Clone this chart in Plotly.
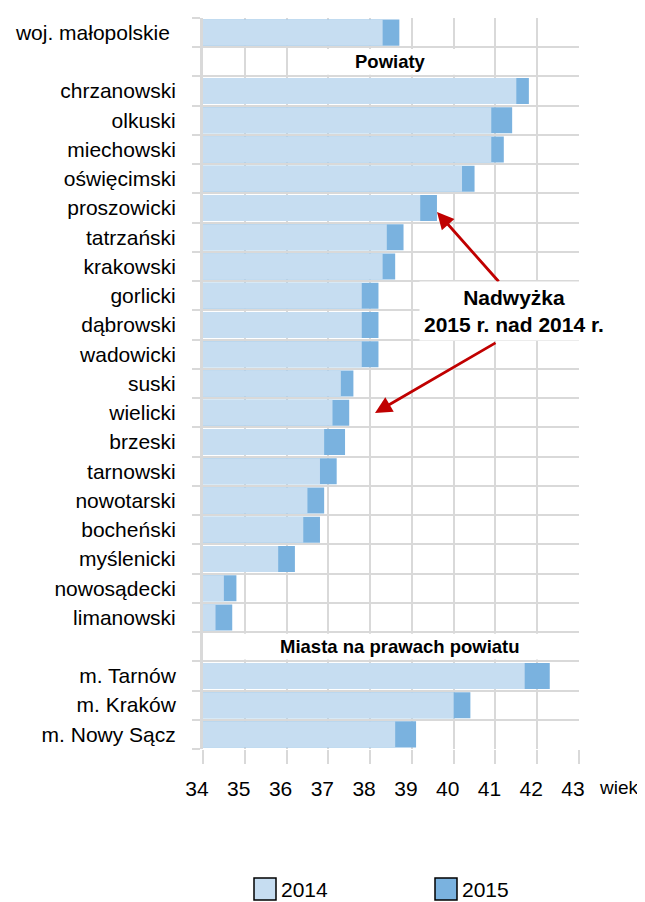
import plotly.graph_objects as go

# --- data ---
woj_label = "woj. małopolskie"
woj_2014 = [38.3]
woj_2015 = [38.7]

powiaty = ["chrzanowski", "olkuski", "miechowski", "oświęcimski", "proszowicki",
           "tatrzański", "krakowski", "gorlicki", "dąbrowski", "wadowicki",
           "suski", "wielicki", "brzeski", "tarnowski", "nowotarski",
           "bocheński", "myślenicki", "nowosądecki", "limanowski"]
pow_2014 = [41.5, 40.9, 40.9, 40.2, 39.2, 38.4, 38.3, 37.8, 37.8, 37.8,
            37.3, 37.1, 36.9, 36.8, 36.5, 36.4, 35.8, 34.5, 34.3]
pow_2015 = [41.8, 41.4, 41.2, 40.5, 39.6, 38.8, 38.6, 38.2, 38.2, 38.2,
            37.6, 37.5, 37.4, 37.2, 36.9, 36.8, 36.2, 34.8, 34.7]

miasta = ["m. Tarnów", "m. Kraków", "m. Nowy Sącz"]
mia_2014 = [41.7, 40.0, 38.6]
mia_2015 = [42.3, 40.4, 39.1]

hdr_pow = "Powiaty"
hdr_mia = "Miasta na prawach powiatu"

x_ticks = list(range(34, 44))

# --- assemble rows (header rows have no bars) ---
cats = [woj_label, hdr_pow] + powiaty + [hdr_mia] + miasta
v2014 = woj_2014 + [None] + pow_2014 + [None] + mia_2014
v2015 = woj_2015 + [None] + pow_2015 + [None] + mia_2015
ticktext = []
for c in cats:
    if c in (hdr_pow, hdr_mia):
        ticktext.append("")
    elif c == woj_label:
        ticktext.append(c + "\u00a0")
    else:
        ticktext.append(c)

LIGHT = "#C6DDF1"
DARK = "#7AB2DF"
GRID = "#D9D9D9"
FONT = "Liberation Sans, Arial, sans-serif"

# page body has an 8px margin, so the figure is drawn 8px in and down
OFF = 8
W, H = 645 - OFF, 902 - OFF
L, T = 203 - OFF, 18 - OFF
R = W - (579 - OFF)
B = H - (749 - OFF)
PW, PH = W - L - R, H - T - B


def px(x):
    return (x - OFF - L) / PW


def py(y):
    return 1 - (y - OFF - T) / PH


fig = go.Figure()
fig.add_trace(go.Bar(y=cats, x=v2015, orientation="h", name="2015",
                     marker=dict(color=DARK, line=dict(width=0))))
fig.add_trace(go.Bar(y=cats, x=v2014, orientation="h", name="2014",
                     marker=dict(color=LIGHT, line=dict(width=0))))

shapes = []
annotations = []

# white boxes behind section headers
i_pow = cats.index(hdr_pow)
i_mia = cats.index(hdr_mia)
shapes.append(dict(type="rect", xref="x", yref="y", x0=36.1, x1=40.9,
                   y0=i_pow - 0.44, y1=i_pow + 0.44, fillcolor="white",
                   line=dict(width=0), layer="above"))
shapes.append(dict(type="rect", xref="x", yref="y", x0=34.06, x1=42.96,
                   y0=i_mia - 0.44, y1=i_mia + 0.44, fillcolor="white",
                   line=dict(width=0), layer="above"))
annotations.append(dict(x=38.48, y=i_pow, xref="x", yref="y", text="<b>Powiaty</b>",
                        xanchor="center", showarrow=False,
                        font=dict(size=18.5, color="#000000", family=FONT)))
annotations.append(dict(x=38.71, y=i_mia, xref="x", yref="y",
                        text="<b>Miasta na prawach powiatu</b>",
                        xanchor="center", showarrow=False,
                        font=dict(size=18.5, color="#000000", family=FONT)))

# arrows
annotations.append(dict(x=px(437), y=py(212), xref="paper", yref="paper", text="",
                        showarrow=True, ax=63, ay=71, arrowhead=2, arrowsize=1.2,
                        arrowwidth=2.8, arrowcolor="#C00000"))
annotations.append(dict(x=px(375), y=py(413), xref="paper", yref="paper", text="",
                        showarrow=True, ax=122, ay=-71, arrowhead=2, arrowsize=1.2,
                        arrowwidth=2.8, arrowcolor="#C00000"))

# callout text
annotations.append(dict(x=px(514), y=py(311), xref="paper", yref="paper",
                        text="<b>Nadwyżka<br>2015 r. nad 2014 r.</b>",
                        xanchor="center", yanchor="middle",
                        showarrow=False, bgcolor="white", borderpad=4,
                        font=dict(size=21, color="#000000", family=FONT)))

# axis unit (kept inside the visible page width)
annotations.append(dict(x=px(597), y=py(787), xref="paper", yref="paper", text="wiek",
                        xanchor="left", yanchor="middle", showarrow=False,
                        font=dict(size=19, color="#000000", family=FONT)))

# legend
for x0, col, lab in [(254, LIGHT, "2014"), (435, DARK, "2015")]:
    shapes.append(dict(type="rect", xref="paper", yref="paper",
                       x0=px(x0), x1=px(x0 + 22), y0=py(900), y1=py(878),
                       fillcolor=col, line=dict(color="#000000", width=1.5)))
    annotations.append(dict(x=px(x0 + 25), y=py(889), xref="paper", yref="paper",
                            text=lab, xanchor="left", yanchor="middle", showarrow=False,
                            font=dict(size=21, color="#000000", family=FONT)))

fig.update_layout(
    width=W, height=H,
    margin=dict(l=L, r=R, t=T, b=B),
    barmode="overlay", bargap=0.11,
    plot_bgcolor="white", paper_bgcolor="white",
    showlegend=False,
    font=dict(family=FONT, size=21, color="#000000"),
    shapes=shapes, annotations=annotations,
)
fig.update_xaxes(range=[34, 43], tickvals=x_ticks, showgrid=True, gridcolor=GRID,
                 gridwidth=1.5, ticks="outside", ticklen=14, tickcolor=GRID,
                 tickwidth=1.5, ticklabelstandoff=7, ticklabelshift=-6,
                 showline=False, zeroline=False, automargin=False,
                 tickfont=dict(size=21, color="#000000"))
fig.update_yaxes(categoryorder="array", categoryarray=cats, autorange="reversed",
                 tickmode="array", tickvals=cats, ticktext=ticktext,
                 tickson="boundaries", ticks="outside", ticklen=8, tickcolor=GRID,
                 tickwidth=1.5, showgrid=True, gridcolor=GRID, gridwidth=1.5,
                 showline=True, linecolor=GRID, linewidth=3, ticklabelstandoff=20,
                 automargin=False,
                 tickfont=dict(size=21, color="#000000"))

fig.write_html("out.html")
